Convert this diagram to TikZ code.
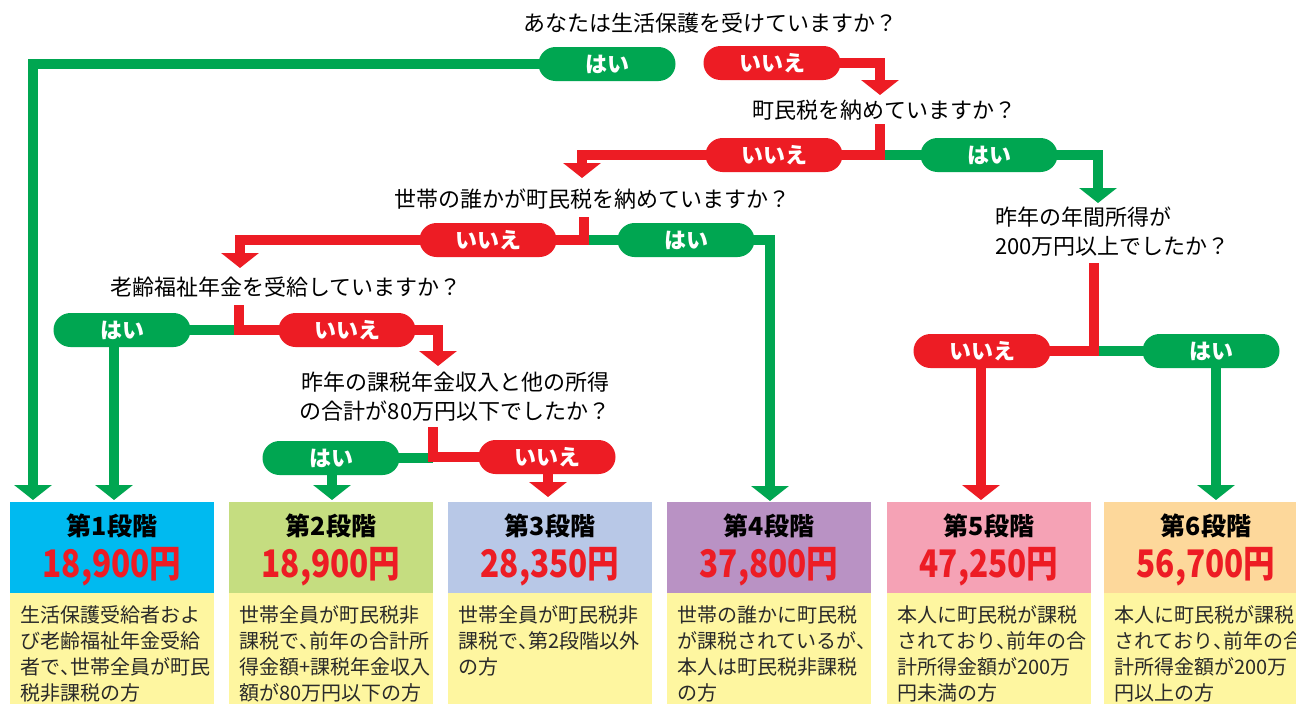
\documentclass[tikz,border=0pt]{standalone}
\usepackage{fontspec}
\usepackage{graphicx}
\setmainfont{Noto Sans CJK JP}
\usetikzlibrary{arrows.meta,calc}
\definecolor{G}{HTML}{00A651}
\definecolor{R}{HTML}{ED1C24}
\definecolor{C1}{HTML}{00BAF0}
\definecolor{C2}{HTML}{C5DD80}
\definecolor{C3}{HTML}{B8C8E7}
\definecolor{C4}{HTML}{B992C4}
\definecolor{C5}{HTML}{F5A2B5}
\definecolor{C6}{HTML}{FDD89B}
\definecolor{YL}{HTML}{FEF6A0}
\definecolor{TX}{HTML}{2A2A2A}
\pgfdeclarelayer{back}
\pgfdeclarelayer{bg}
\pgfsetlayers{back,bg,main}
\newcommand\hw[1]{\makebox[.5em][l]{#1}}
\newcommand\amt[1]{\scalebox{0.83}[1]{#1}}
\begin{document}
\begin{tikzpicture}[x=1pt,y=-1pt,
  gl/.style={line width=10pt, draw=G, line join=miter},
  rl/.style={line width=10pt, draw=R, line join=miter},
  tipd/.style={-{Triangle[width=37pt,length=15pt]}},
  pill/.style={rectangle, rounded corners=17pt, minimum width=137pt, minimum height=34pt, inner sep=0pt, text=white, font=\fontsize{22}{22}\selectfont\bfseries},
  qn/.style={inner sep=0pt, text=black, font=\fontsize{22}{29}\selectfont},
  hdr/.style={rectangle, minimum width=204pt, minimum height=91pt, inner sep=0pt},
  dbox/.style={rectangle, fill=YL, minimum width=204pt, minimum height=111pt, inner sep=0pt},
  ttl/.style={inner sep=0pt, text=black, font=\fontsize{25}{25}\selectfont\bfseries},
  amtn/.style={inner sep=0pt, text=R, font=\fontsize{38}{38}\selectfont\bfseries},
  dtx/.style={inner sep=0pt, anchor=north west, align=left, text=TX, font=\fontsize{20}{26}\selectfont}
]
\useasboundingbox (0,0) rectangle (1296,704);
\begin{pgfonlayer}{back}
\fill[white] (0,0) rectangle (1296,704);
\end{pgfonlayer}

% ---------- boxes ----------
\foreach \i/\cx/\col in {1/112/C1,2/331/C2,3/550/C3,4/769/C4,5/989/C5,6/1206/C6}{
  \node[hdr, fill=\col] (b\i) at (\cx,547.5) {};
  \node[dbox] (d\i) at (\cx,648.5) {};
}
\node[ttl] (t1) at (112,526) {第1段階};
\node[ttl] (t2) at (331,526) {第2段階};
\node[ttl] (t3) at (550,526) {第3段階};
\node[ttl] (t4) at (769,526) {第4段階};
\node[ttl] (t5) at (989,526) {第5段階};
\node[ttl] (t6) at (1206,526) {第6段階};
\node[amtn] (m1) at (112,567) {\amt{18,900円}};
\node[amtn] (m2) at (331,567) {\amt{18,900円}};
\node[amtn] (m3) at (550,567) {\amt{28,350円}};
\node[amtn] (m4) at (769,567) {\amt{37,800円}};
\node[amtn] (m5) at (989,567) {\amt{47,250円}};
\node[amtn] (m6) at (1206,567) {\amt{56,700円}};
\node[dtx] (x1) at (20,605) {生活保護受給者およ\\び老齢福祉年金受給\\者で\hw{、}世帯全員が町民\\税非課税の方};
\node[dtx] (x2) at (239,605) {世帯全員が町民税非\\課税で\hw{、}前年の合計所\\得金額+課税年金収入\\額が80万円以下の方};
\node[dtx] (x3) at (458,605) {世帯全員が町民税非\\課税で\hw{、}第2段階以外\\の方};
\node[dtx] (x4) at (677,605) {世帯の誰かに町民税\\が課税されているが\hw{、}\\本人は町民税非課税\\の方};
\node[dtx] (x5) at (897,605) {本人に町民税が課税\\されており\hw{、}前年の合\\計所得金額が200万\\円未満の方};
\node[dtx] (x6) at (1114,605) {本人に町民税が課税\\されており\hw{、}前年の合\\計所得金額が200万\\円以上の方};

% ---------- questions ----------
\node[qn] (q1) at (710,23) {あなたは生活保護を受けていますか？};
\node[qn] (q2) at (884,110) {町民税を納めていますか？};
\node[qn] (q3) at (592,199) {世帯の誰かが町民税を納めていますか？};
\node[qn] (q4) at (286,287) {老齢福祉年金を受給していますか？};
\node[qn, align=center] (q5) at (455,397) {昨年の課税年金収入と他の所得\\の合計が80万円以下でしたか？};
\node[qn, align=left, anchor=west] (q6) at (995,232) {昨年の年間所得が\\200万円以上でしたか？};

% ---------- pills ----------
\node[pill, fill=G] (p1) at (607,64) {はい};
\node[pill, fill=R] (p2) at (772,63) {いいえ};
\node[pill, fill=R] (p3) at (774,155) {いいえ};
\node[pill, fill=G] (p4) at (989,155) {はい};
\node[pill, fill=R] (p5) at (488,240) {いいえ};
\node[pill, fill=G] (p6) at (686,240) {はい};
\node[pill, fill=G] (p7) at (122,330) {はい};
\node[pill, fill=R] (p8) at (347,330) {いいえ};
\node[pill, fill=G] (p9) at (331,458) {はい};
\node[pill, fill=R] (p10) at (547,457) {いいえ};
\node[pill, fill=R] (p11) at (982,351) {いいえ};
\node[pill, fill=G] (p12) at (1211,351) {はい};

% ---------- free ends ----------
\coordinate (a1) at (33,500);
\coordinate (a2) at (880,95);
\coordinate (s2) at (880,124);
\coordinate (a3) at (582,178);
\coordinate (a4) at (1098,203);
\coordinate (s3) at (584,217);
\coordinate (a5) at (240,268);
\coordinate (a6) at (770,501);
\coordinate (s4) at (239,305);
\coordinate (a8) at (438,366);
\coordinate (a7) at (114,500);
\coordinate (s5) at (433,427);
\coordinate (a9) at (332,500);
\coordinate (a10) at (548,497);
\coordinate (s6) at (1094,263);
\coordinate (a11) at (981,500);
\coordinate (a12) at (1216,500);

% ---------- connectors ----------
\begin{pgfonlayer}{bg}
\draw[gl,tipd] (p1.center) -| (a1);
\draw[rl,tipd] (p2.center) -| (a2);
\draw[gl] (s2 |- p4.center) -- (p4.center);
\draw[rl] (s2) |- (p3.center);
\draw[rl,tipd] (p3.center) -| (a3);
\draw[gl,tipd] (p4.center) -| (a4);
\draw[gl] (s3 |- p6.center) -- (p6.center);
\draw[rl] (s3) |- (p5.center);
\draw[rl,tipd] (p5.center) -| (a5);
\draw[gl,tipd] (p6.center) -| (a6);
\draw[gl] (s4 |- p7.center) -- (p7.center);
\draw[rl] (s4) |- (p8.center);
\draw[rl,tipd] (p8.center) -| (a8);
\draw[gl,tipd] (p7.center -| a7) -- (a7);
\draw[gl] (s5 |- p9.center) -- (p9.center);
\draw[rl] (s5) |- (p10.center);
\draw[gl,tipd] (p9.center -| a9) -- (a9);
\draw[rl,tipd] (p10.center -| a10) -- (a10);
\draw[gl] (s6 |- p12.center) -- (p12.center);
\draw[rl] (s6) |- (p11.center);
\draw[rl,tipd] (p11.center -| a11) -- (a11);
\draw[gl,tipd] (p12.center -| a12) -- (a12);
\end{pgfonlayer}
\end{tikzpicture}
\end{document}
